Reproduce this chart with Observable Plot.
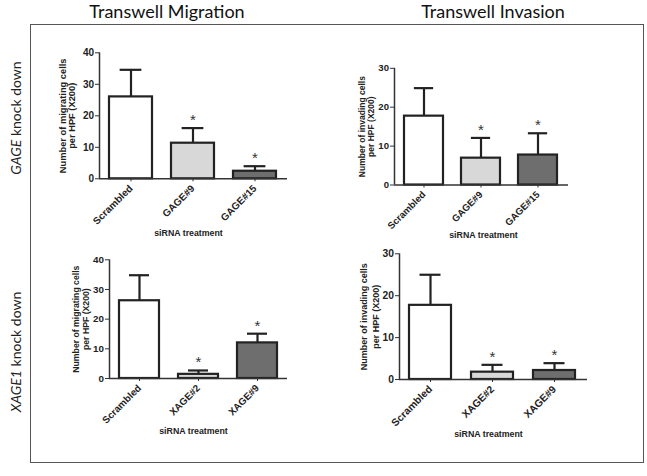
<!DOCTYPE html>
<html>
<head>
<meta charset="utf-8">
<script src="https://cdn.jsdelivr.net/npm/d3@7"></script>
<script src="https://cdn.jsdelivr.net/npm/@observablehq/plot@0.6"></script>
<style>
  html, body { margin: 0; padding: 0; background: #fff; }
  #root { position: relative; width: 647px; height: 476px; overflow: hidden; background: #fff; }
  .abs { position: absolute; }
  .title { font-family: Lato, "Open Sans", sans-serif; font-size: 18px; color: #111; white-space: nowrap; transform: translate(-50%, -50%); }
  .rowlab { font-family: Lato, "Open Sans", sans-serif; font-size: 14px; color: #222; white-space: nowrap; transform: translate(-50%, -50%) rotate(-90deg); }
  #box { left: 30px; top: 24px; width: 614px; height: 439px; border: 1.5px solid #555; box-sizing: border-box; }
</style>
</head>
<body>
<div id="root">
  <div id="box" class="abs"></div>
  <div class="abs title" style="left:167px; top:11px;">Transwell Migration</div>
  <div class="abs title" style="left:493px; top:11px;">Transwell Invasion</div>
  <div class="abs rowlab" style="left:15px; top:118px;"><i>GAGE</i> knock down</div>
  <div class="abs rowlab" style="left:15px; top:352px;"><i>XAGE1</i> knock down</div>
</div>
<script>
// ---- data ----
const gageLabels = ["Scrambled", "GAGE#9", "GAGE#15"];
const xageLabels = ["Scrambled", "XAGE#2", "XAGE#9"];
const gageMigMean = [26.0, 11.3, 2.4];
const gageMigSD   = [8.6, 4.8, 1.6];
const gageInvMean = [17.7, 6.9, 7.7];
const gageInvSD   = [7.2, 5.2, 5.6];
const xageMigMean = [26.2, 1.4, 12.0];
const xageMigSD   = [8.6, 1.3, 3.1];
const xageInvMean = [17.7, 1.75, 2.15];
const xageInvSD   = [7.3, 1.75, 1.75];
const significant = [false, true, true];
const migTicks = [0, 10, 20, 30, 40];
const invTicks = [0, 10, 20, 30];
const migTitle = ["Number of migrating cells", "per HPF (X200)"];
const invTitle = ["Number of invading cells", "per HPF (X200)"];
const xTitle = "siRNA treatment";

// ---- styles / layout ----
const barFills = ["#ffffff", "#d8d8d8", "#6e6e6e"];
const ink = "#222";

const layouts = [
  {left: 35, top: 35, w: 285, h: 210, axisL: 99, axisR: 287, yTop: 52.3, yZero: 178.3, c0: 130.5, c2: 254.5, bw: 42.5, ytX: 67.1, ytGap: 9.2, ytFs: 9.3, xtX: 188, xtY: 233, fs: 10},
  {left: 330, top: 35, w: 305, h: 210, axisL: 394, axisR: 568, yTop: 67.8, yZero: 184.5, c0: 423, c2: 538.5, bw: 39.5, ytX: 366.2, ytGap: 9.8, ytFs: 8.5, xtX: 483, xtY: 235, fs: 9.6},
  {left: 35, top: 245, w: 285, h: 210, axisL: 109, axisR: 287, yTop: 259.3, yZero: 378, c0: 138.5, c2: 257.5, bw: 40, ytX: 80.6, ytGap: 9.4, ytFs: 8.7, xtX: 193, xtY: 431, fs: 9.8},
  {left: 330, top: 245, w: 305, h: 210, axisL: 399, axisR: 587, yTop: 253.3, yZero: 379, c0: 429.5, c2: 554.5, bw: 42, ytX: 369.8, ytGap: 12.6, ytFs: 9.0, xtX: 488, xtY: 434, fs: 10.3}
];

const panels = [
  {labels: gageLabels, mean: gageMigMean, sd: gageMigSD, ticks: migTicks, ytitle: migTitle},
  {labels: gageLabels, mean: gageInvMean, sd: gageInvSD, ticks: invTicks, ytitle: invTitle},
  {labels: xageLabels, mean: xageMigMean, sd: xageMigSD, ticks: migTicks, ytitle: migTitle},
  {labels: xageLabels, mean: xageInvMean, sd: xageInvSD, ticks: invTicks, ytitle: invTitle}
];

const root = document.getElementById("root");

panels.forEach((p, idx) => {
  const L = layouts[idx];
  const mL = L.axisL - L.left;
  const mR = L.left + L.w - L.axisR;
  const mT = L.yTop - L.top;
  const mB = L.top + L.h - L.yZero;
  const step = (L.c2 - L.c0) / 2;
  const pad = 1 - L.bw / step;
  const xr = [L.c0 - step / 2 - L.left, L.c2 + step / 2 - L.left];
  const frameW = L.axisR - L.axisL;
  const frameCx = (L.axisL + L.axisR) / 2;
  const cap = L.bw * 0.25;
  const rows = p.labels.map((k, i) => ({k, m: p.mean[i], e: p.mean[i] + p.sd[i], s: significant[i], f: barFills[i]}));
  const svg = Plot.plot({
    width: L.w, height: L.h,
    marginLeft: mL, marginRight: mR, marginTop: mT, marginBottom: mB,
    x: {domain: p.labels, range: xr, paddingInner: pad, paddingOuter: pad / 2, label: null},
    y: {domain: [0, p.ticks[p.ticks.length - 1]], label: null},
    style: {fontFamily: "'Liberation Sans', Arial, sans-serif", fontWeight: "bold", fontSize: L.fs + "px", color: ink, background: "transparent", overflow: "visible"},
    marks: [
      Plot.ruleX(rows, {x: "k", y1: "m", y2: "e", stroke: ink, strokeWidth: 2.2}),
      Plot.tickY(rows, {x: "k", y: "e", insetLeft: cap, insetRight: cap, stroke: ink, strokeWidth: 2.2}),
      Plot.barY(rows, {x: "k", y: "m", fill: "f", stroke: ink, strokeWidth: 2.2}),
      Plot.text(rows.filter(d => d.s), {x: "k", y: "e", text: () => "*", dy: -8, fontSize: 15, fontWeight: "normal", fill: "#333"}),
      Plot.ruleY([0], {stroke: "#333", strokeWidth: 1.5}),
      Plot.ruleX([0], {x: null, dx: -frameW / 2, stroke: "#333", strokeWidth: 1.5}),
      Plot.axisY({ticks: p.ticks, tickSize: 4, tickPadding: 1.5, tickFormat: d => d, label: null, stroke: "#333"}),
      Plot.axisX({tickRotate: -45, tickSize: 3, tickPadding: 5, label: null, stroke: "#333"}),
      Plot.text([p.ytitle[0]], {frameAnchor: "middle", rotate: -90, dx: L.ytX - L.ytGap / 2 - frameCx, fontSize: L.ytFs + "px", fill: ink}),
      Plot.text([p.ytitle[1]], {frameAnchor: "middle", rotate: -90, dx: L.ytX + L.ytGap / 2 - frameCx, fontSize: L.ytFs + "px", fill: ink}),
      Plot.text([xTitle], {frameAnchor: "bottom", lineAnchor: "middle", dx: L.xtX - frameCx, dy: L.xtY - L.yZero, fontSize: "8.8px", fill: ink})
    ]
  });
  svg.style.position = "absolute";
  svg.style.left = L.left + "px";
  svg.style.top = L.top + "px";
  root.appendChild(svg);
});
</script>
</body>
</html>
